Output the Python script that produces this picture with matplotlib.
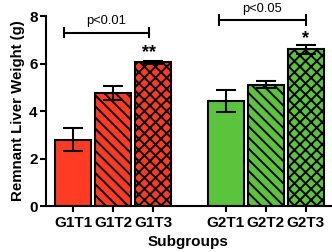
import matplotlib.pyplot as plt

plt.rcParams['font.family'] = ['Liberation Sans', 'DejaVu Sans']
plt.rcParams['hatch.linewidth'] = 1.4

# data
labels = ['G1T1', 'G1T2', 'G1T3', 'G2T1', 'G2T2', 'G2T3']
means = [2.8, 4.75, 6.05, 4.42, 5.1, 6.6]
errs = [0.5, 0.3, 0.07, 0.45, 0.15, 0.2]
positions = [1, 2, 3, 4.825, 5.825, 6.825]
hatches = ['', '\\\\\\', 'xxx', '', '\\\\\\', 'xxx']
red = '#FF3B24'
green = '#5CC43C'
colors = [red, red, red, green, green, green]

fig = plt.figure(figsize=(3.32, 2.52), dpi=100)
ax = fig.add_axes([0.1386, 0.1825, 0.858, 0.754])

for x, m, e, h, c in zip(positions, means, errs, hatches, colors):
    ax.bar(x, m, width=0.9, color=c, edgecolor='black', linewidth=1.5, hatch=h, zorder=2)
    ax.errorbar(x, m, yerr=e, color='black', capsize=7, elinewidth=1.5,
                capthick=1.5, zorder=3)

# significance brackets
def bracket(x0, x1, y, txt, star, star_y):
    ax.plot([x0, x1], [y, y], color='black', lw=1.5, clip_on=False)
    ax.plot([x0, x0], [y - 0.2, y + 0.2], color='black', lw=1.5, clip_on=False)
    ax.plot([x1, x1], [y - 0.2, y + 0.2], color='black', lw=1.5, clip_on=False)
    ax.text((x0 + x1) / 2, y + 0.22, txt, ha='center', va='bottom', fontsize=9.3, clip_on=False)
    ax.text(x1, star_y, star, ha='center', va='center', fontsize=13, fontweight='bold')

bracket(0.78, 2.9, 7.3, 'p<0.01', '**', 6.45)
bracket(4.65, 6.825, 7.83, 'p<0.05', '*', 7.05)

ax.set_xlim(0.325, 7.45)
ax.set_ylim(0, 8)
ax.set_yticks([0, 2, 4, 6, 8])
ax.set_xticks(positions)
ax.set_xticklabels(labels)

for lab in ax.get_xticklabels() + ax.get_yticklabels():
    lab.set_fontweight('bold')
    lab.set_fontsize(11)

ax.tick_params(width=1.5, length=4, pad=2)
ax.tick_params(axis='x', pad=3)
ax.spines['top'].set_visible(False)
ax.spines['right'].set_visible(False)
ax.spines['left'].set_linewidth(1.5)
ax.spines['bottom'].set_linewidth(1.5)

ax.set_ylabel('Remnant Liver Weight (g)', fontsize=10.8, fontweight='bold', labelpad=3)
ax.set_xlabel('Subgroups', fontsize=11, fontweight='bold', labelpad=4)

fig.savefig('out.png', dpi=100)
